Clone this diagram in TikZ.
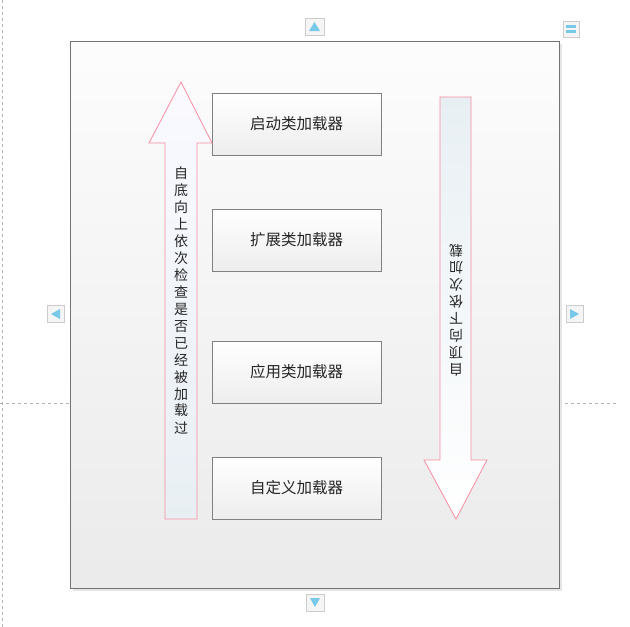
\documentclass[tikz,border=0pt]{standalone}
\usepackage{fontspec}
\newfontfamily\cjk{Noto Sans CJK SC}
\definecolor{sky}{HTML}{78C8E8}
\definecolor{shaft}{HTML}{E8EFF3}
\begin{document}
\begin{tikzpicture}[x=1pt,y=-1pt,
  box/.style={draw=black!50,top color=white,bottom color=black!7,minimum width=169pt,minimum height=62pt,font=\cjk\fontsize{15.5}{17}\selectfont,text=black!85},
  btn/.style={draw=black!20,fill=black!4},
  tri/.style={fill=sky},
  arr/.style={draw=magenta!50!red!45,line width=0.8pt},
  vtxt/.style={font=\cjk\fontsize{14}{17}\selectfont,align=center,text=black!85}]
\useasboundingbox (0,0) rectangle (630,627);
\draw[black!30,dashed] (2,0) -- (2,627);
\draw[black!30,dashed] (0,403) -- (70,403);
\draw[black!30,dashed] (559,403) -- (617,403);
\fill[black!10] (73,44) rectangle (562,591);
\draw[black!55,top color=black!1,bottom color=black!8] (70,41) rectangle (559,588);
% buttons
\draw[btn] (305,18) rectangle (324,35); \fill[tri] (309,31) -- (320,31) -- (314.5,22) -- cycle;
\draw[btn] (306,594) rectangle (324,611); \fill[tri] (310,598) -- (320,598) -- (315,607) -- cycle;
\draw[btn] (47,305) rectangle (64,322); \fill[tri] (60,309) -- (60,319) -- (51,314) -- cycle;
\draw[btn] (566,305) rectangle (583,322); \fill[tri] (570,309) -- (570,319) -- (579,314) -- cycle;
\draw[btn] (563,21) rectangle (579,37); \fill[tri] (566,25) rectangle (576,28); \fill[tri] (566,30) rectangle (576,33);
% boxes
\node[box] (b1) at (296.5,124) {启动类加载器};
\node[box] (b2) at (296.5,240) {扩展类加载器};
\node[box] (b3) at (296.5,372) {应用类加载器};
\node[box] (b4) at (296.5,488) {自定义加载器};
% arrows
\draw[arr,top color=blue!2!white,bottom color=shaft] (165,519) -- (165,143) -- (149,143) -- (181,82) -- (212,143) -- (197,143) -- (197,519) -- cycle;
\draw[arr,top color=shaft,bottom color=white] (440,97) -- (471,97) -- (471,460) -- (487,460) -- (456,519) -- (424,460) -- (440,460) -- cycle;
\node[vtxt] (lt) at (181,300) {自\\底\\向\\上\\依\\次\\检\\查\\是\\否\\已\\经\\被\\加\\载\\过};
\node[vtxt,rotate=180] (rt) at (456,310) {自\\顶\\向\\下\\依\\次\\加\\载};
\end{tikzpicture}
\end{document}
